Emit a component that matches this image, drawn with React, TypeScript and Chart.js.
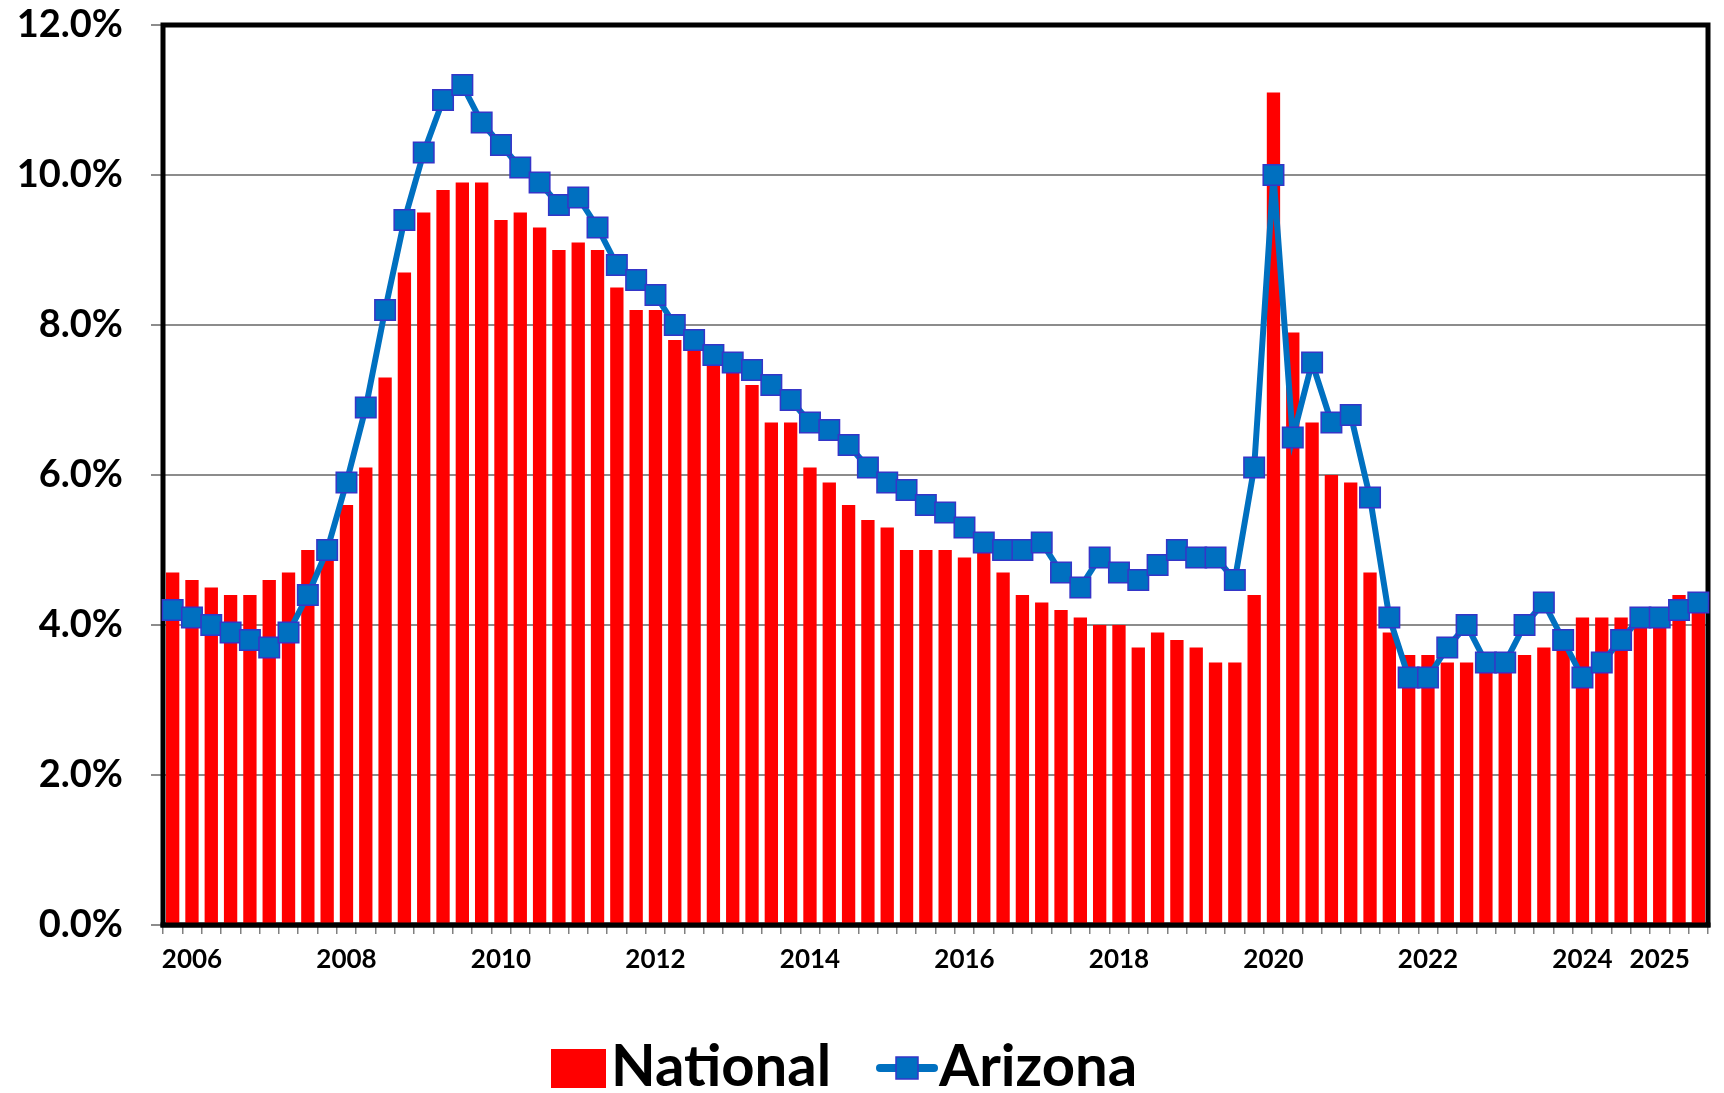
import React, { useEffect, useRef } from "react";
import { Chart, registerables } from "chart.js";

Chart.register(...registerables);

// Quarterly categories, 2006 Q1 .. 2025 Q4
const years = [
  "2006", "2007", "2008", "2009", "2010", "2011", "2012", "2013", "2014", "2015",
  "2016", "2017", "2018", "2019", "2020", "2021", "2022", "2023", "2024", "2025",
];
const quarters = ["Q1", "Q2", "Q3", "Q4"];
const categories: string[] = years.flatMap((y) => quarters.map((q) => `${y} ${q}`));

// Quarters that carry a year label on the axis
const labeledCategories = [
  "2006 Q2", "2008 Q2", "2010 Q2", "2012 Q2", "2014 Q2", "2016 Q2",
  "2018 Q2", "2020 Q2", "2022 Q2", "2024 Q2", "2025 Q2",
];

// Unemployment rate, %
const national = [
  4.7, 4.6, 4.5, 4.4, 4.4, 4.6, 4.7, 5.0,
  5.1, 5.6, 6.1, 7.3, 8.7, 9.5, 9.8, 9.9,
  9.9, 9.4, 9.5, 9.3, 9.0, 9.1, 9.0, 8.5,
  8.2, 8.2, 7.8, 7.8, 7.5, 7.5, 7.2, 6.7,
  6.7, 6.1, 5.9, 5.6, 5.4, 5.3, 5.0, 5.0,
  5.0, 4.9, 5.0, 4.7, 4.4, 4.3, 4.2, 4.1,
  4.0, 4.0, 3.7, 3.9, 3.8, 3.7, 3.5, 3.5,
  4.4, 11.1, 7.9, 6.7, 6.0, 5.9, 4.7, 3.9,
  3.6, 3.6, 3.5, 3.5, 3.5, 3.5, 3.6, 3.7,
  3.7, 4.1, 4.1, 4.1, 4.1, 4.1, 4.4, 4.4,
];

const arizona = [
  4.2, 4.1, 4.0, 3.9, 3.8, 3.7, 3.9, 4.4,
  5.0, 5.9, 6.9, 8.2, 9.4, 10.3, 11.0, 11.2,
  10.7, 10.4, 10.1, 9.9, 9.6, 9.7, 9.3, 8.8,
  8.6, 8.4, 8.0, 7.8, 7.6, 7.5, 7.4, 7.2,
  7.0, 6.7, 6.6, 6.4, 6.1, 5.9, 5.8, 5.6,
  5.5, 5.3, 5.1, 5.0, 5.0, 5.1, 4.7, 4.5,
  4.9, 4.7, 4.6, 4.8, 5.0, 4.9, 4.9, 4.6,
  6.1, 10.0, 6.5, 7.5, 6.7, 6.8, 5.7, 4.1,
  3.3, 3.3, 3.7, 4.0, 3.5, 3.5, 4.0, 4.3,
  3.8, 3.3, 3.5, 3.8, 4.1, 4.1, 4.2, 4.3,
];

const yTicks = [0, 2, 4, 6, 8, 10, 12];
const seriesNames = ["National", "Arizona"];

const RED = "#FF0000";
const BLUE = "#0070C0";
const MARKER_EDGE = "#3535C8";
const FONT = "Lato, 'Open Sans', 'Noto Sans', sans-serif";

const framePlugin = {
  id: "frame",
  beforeDatasetsDraw(chart: any) {
    const { ctx, chartArea } = chart;
    const { left, top, right, bottom } = chartArea;
    ctx.save();
    ctx.strokeStyle = "#000";
    ctx.lineWidth = 5;
    ctx.strokeRect(left, top, right - left, bottom - top);
    ctx.restore();
  },
  afterDatasetsDraw(chart: any) {
    const { ctx, chartArea } = chart;
    const { left, right, bottom } = chartArea;
    ctx.save();
    ctx.strokeStyle = "#000";
    ctx.lineWidth = 5;
    ctx.beginPath();
    ctx.moveTo(left - 2.5, bottom);
    ctx.lineTo(right + 2.5, bottom);
    ctx.stroke();
    ctx.restore();
  },
};

const legendPlugin = {
  id: "customLegend",
  afterDraw(chart: any) {
    const ctx = chart.ctx;
    ctx.save();
    const baseY = 1086;
    const midY = 1068;
    // National
    ctx.fillStyle = RED;
    ctx.fillRect(551, 1049, 55, 39);
    ctx.fillStyle = "#000";
    ctx.font = `bold 58px ${FONT}`;
    ctx.textBaseline = "alphabetic";
    ctx.textAlign = "left";
    ctx.fillText(seriesNames[0], 611, baseY);
    // Arizona
    ctx.strokeStyle = BLUE;
    ctx.lineWidth = 8;
    ctx.lineCap = "round";
    ctx.beginPath();
    ctx.moveTo(880, midY);
    ctx.lineTo(934, midY);
    ctx.stroke();
    ctx.fillStyle = BLUE;
    ctx.fillRect(896, midY - 11, 22, 22);
    ctx.strokeStyle = MARKER_EDGE;
    ctx.lineWidth = 1.5;
    ctx.strokeRect(896, midY - 11, 22, 22);
    ctx.fillStyle = "#000";
    ctx.fillText(seriesNames[1], 939, baseY);
    ctx.restore();
  },
};

export default function App() {
  const ref = useRef<HTMLCanvasElement | null>(null);

  useEffect(() => {
    if (!ref.current) return;
    const chart = new Chart(ref.current, {
      type: "bar",
      data: {
        labels: categories,
        datasets: [
          {
            type: "line",
            label: seriesNames[1],
            data: arizona,
            borderColor: BLUE,
            backgroundColor: BLUE,
            borderWidth: 6,
            pointStyle: "rect",
            pointRadius: 14.5,
            pointBackgroundColor: BLUE,
            pointBorderColor: MARKER_EDGE,
            pointBorderWidth: 1.5,
            tension: 0,
            order: 0,
            clip: false,
          } as any,
          {
            type: "bar",
            label: seriesNames[0],
            data: national,
            backgroundColor: RED,
            borderWidth: 0,
            categoryPercentage: 1,
            barPercentage: 0.69,
            order: 1,
          },
        ],
      },
      options: {
        responsive: false,
        animation: false,
        devicePixelRatio: 1,
        layout: { padding: { top: 25, right: 16, left: 0, bottom: 0 } },
        plugins: {
          legend: { display: false },
          tooltip: { enabled: false },
        },
        scales: {
          x: {
            offset: true,
            afterFit: (s: any) => {
              s.height = 168;
              s.paddingLeft = 0;
              s.paddingRight = 0;
            },
            grid: {
              offset: true,
              drawOnChartArea: false,
              drawTicks: true,
              tickLength: 9,
              color: "#808080",
              lineWidth: 1.5,
            },
            border: { display: false },
            ticks: {
              autoSkip: false,
              maxRotation: 0,
              minRotation: 0,
              padding: 10,
              color: "#000",
              font: { family: FONT, size: 26, weight: "bold" },
              callback: (_v: any, i: number) =>
                labeledCategories.includes(categories[i]) ? categories[i].slice(0, 4) : "",
            },
          },
          y: {
            min: 0,
            max: 12,
            afterFit: (s: any) => {
              s.width = 163;
              s.paddingTop = 0;
              s.paddingBottom = 0;
            },
            afterBuildTicks: (s: any) => {
              s.ticks = yTicks.map((v) => ({ value: v }));
            },
            grid: {
              color: "#8C8C8C",
              lineWidth: 2,
              tickLength: 12,
            },
            border: { display: false },
            ticks: {
              padding: 28,
              color: "#000",
              font: { family: FONT, size: 38, weight: "bold" },
              callback: (v: any) => `${Number(v).toFixed(1)}%`,
            },
          },
        },
      },
      plugins: [framePlugin, legendPlugin],
    });
    return () => chart.destroy();
  }, []);

  return (
    <div
      style={{
        position: "absolute",
        left: 0,
        top: 0,
        width: 1724,
        height: 1093,
        background: "#fff",
      }}
    >
      <canvas ref={ref} width={1724} height={1093} style={{ display: "block" }} />
    </div>
  );
}
